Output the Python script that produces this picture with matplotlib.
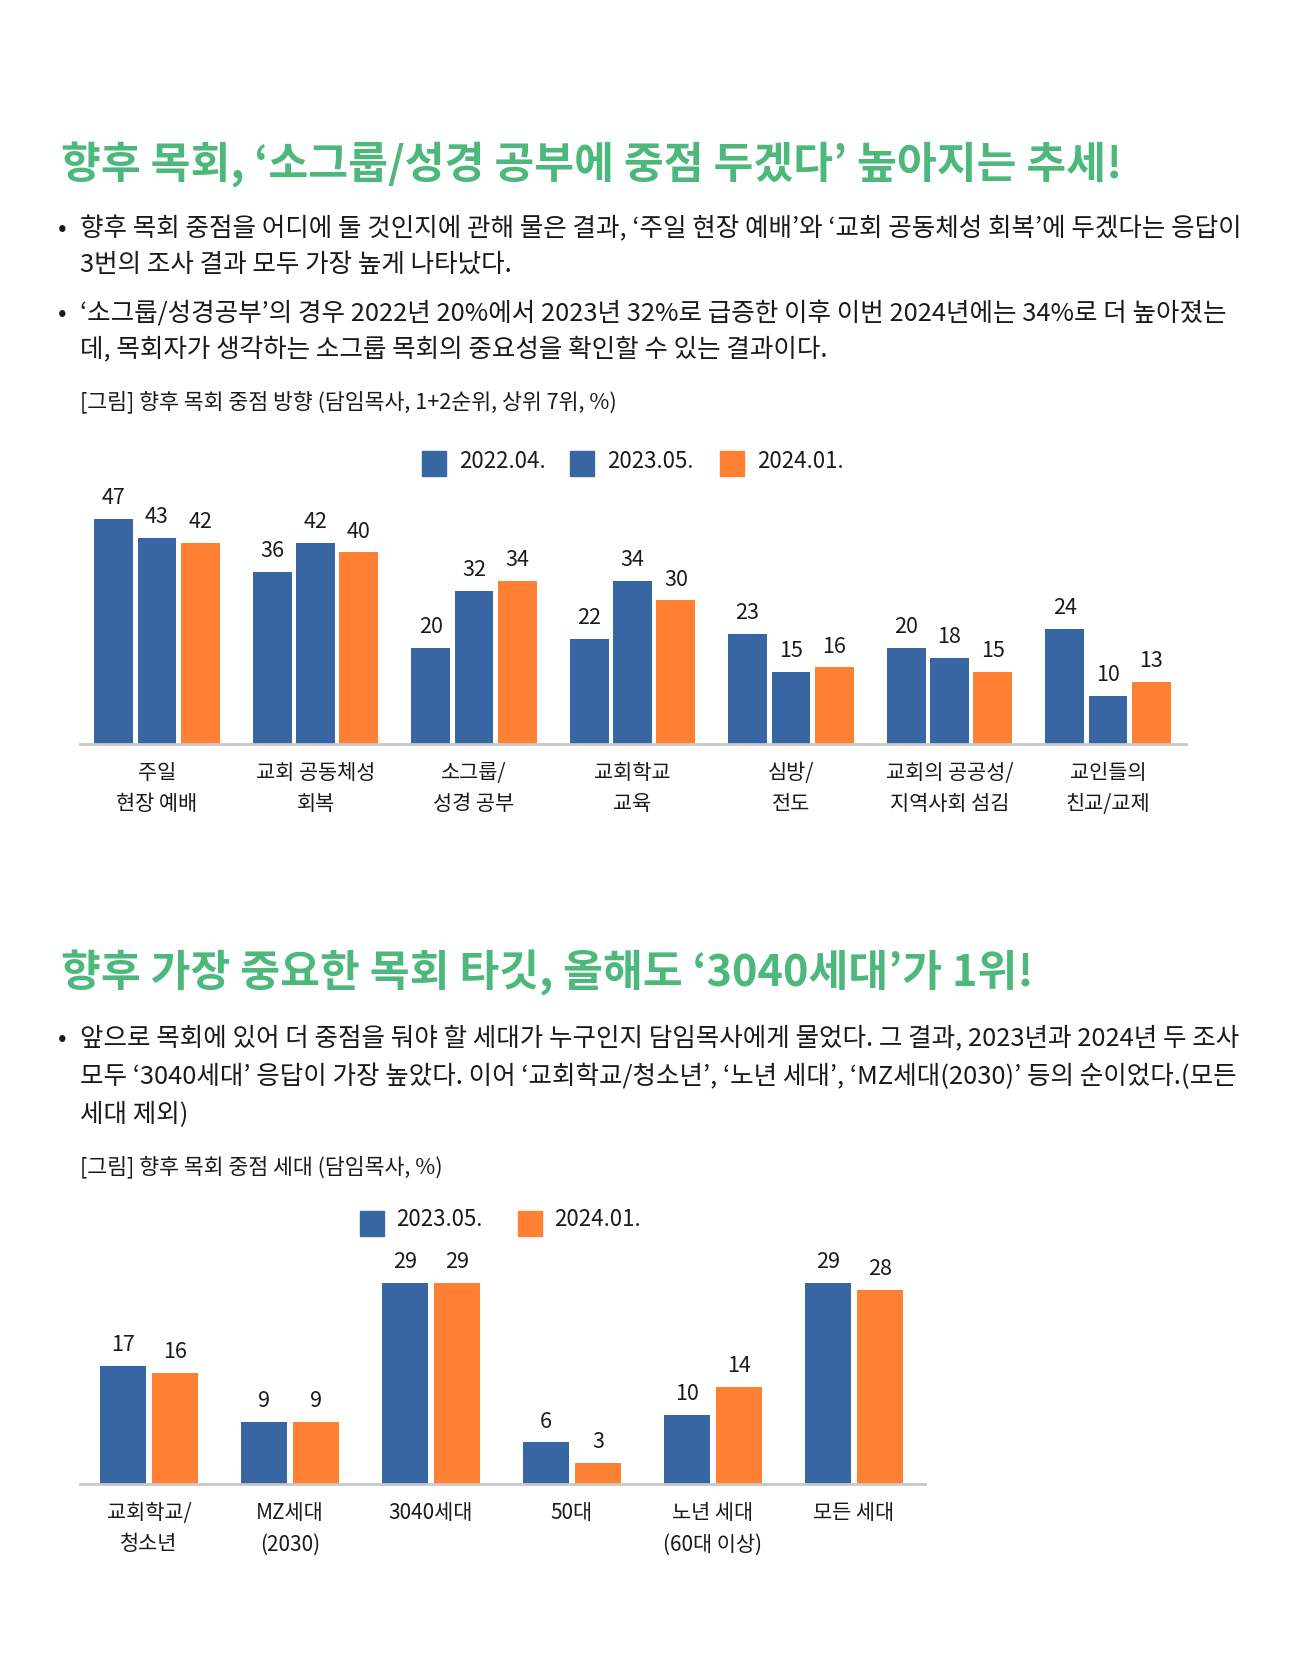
import matplotlib
matplotlib.use("Agg")
import matplotlib.pyplot as plt
import numpy as np

plt.rcParams['font.family'] = ['Noto Sans CJK KR', 'DejaVu Sans']

# chart 1 data
cats1 = ["주일\n현장 예배", "교회 공동체성\n회복", "소그룹/\n성경 공부", "교회학교\n교육",
         "심방/\n전도", "교회의 공공성/\n지역사회 섬김", "교인들의\n친교/교제"]
s2022 = [47, 36, 20, 22, 23, 20, 24]
s2023 = [43, 42, 32, 34, 15, 18, 10]
s2024 = [42, 40, 34, 30, 16, 15, 13]
legend1 = ["2022.04.", "2023.05.", "2024.01."]

# chart 2 data
cats2 = ["교회학교/\n청소년", "MZ세대\n(2030)", "3040세대", "50대", "노년 세대\n(60대 이상)", "모든 세대"]
g2023 = [17, 9, 29, 6, 10, 29]
g2024 = [16, 9, 29, 3, 14, 28]
legend2 = ["2023.05.", "2024.01."]

BLUE = "#3866A3"
ORANGE = "#FF8033"
GREEN = "#4DB87B"
TXT = "#1a1a1a"

W, H = 1301, 1668
fig = plt.figure(figsize=(W / 100, H / 100), dpi=100)


def px(x, y):
    return x / W, 1 - y / H


def text(x, y, s, **kw):
    fx, fy = px(x, y)
    fig.text(fx, fy, s, va="center", **kw)


def legend_box(x, y, col):
    # x, y = top-left corner in pixels
    fx, fy = px(x, y + 25)
    fig.patches.append(plt.Rectangle((fx, fy), 24 / W, 25 / H, color=col, transform=fig.transFigure))


# ---- section 1 text ----
text(61, 165, "향후 목회, ‘소그룹/성경 공부에 중점 두겠다’ 높아지는 추세!",
     fontsize=31.2, color=GREEN, fontweight="bold")
body = 18.4
text(58, 229, "•", fontsize=body, color=TXT)
text(80, 229, "향후 목회 중점을 어디에 둘 것인지에 관해 물은 결과, ‘주일 현장 예배’와 ‘교회 공동체성 회복’에 두겠다는 응답이",
     fontsize=body, color=TXT)
text(80, 265, "3번의 조사 결과 모두 가장 높게 나타났다.", fontsize=body, color=TXT)
text(58, 314, "•", fontsize=body, color=TXT)
text(80, 314, "‘소그룹/성경공부’의 경우 2022년 20%에서 2023년 32%로 급증한 이후 이번 2024년에는 34%로 더 높아졌는",
     fontsize=body, color=TXT)
text(80, 350, "데, 목회자가 생각하는 소그룹 목회의 중요성을 확인할 수 있는 결과이다.", fontsize=body, color=TXT)
text(80, 402, "[그림] 향후 목회 중점 방향 (담임목사, 1+2순위, 상위 7위, %)", fontsize=15.6, color=TXT)

# ---- chart 1 ----
left, right, base = 80, 1186, 744
c0, step = 157, 158.5
ymax1 = 50
top = base - ymax1 * 4.79
ax1 = fig.add_axes([left / W, 1 - base / H, (right - left) / W, (base - top) / H])
x1 = np.arange(len(cats1))
bw, off = 0.246, 0.274
ax1.set_xlim((left - c0) / step, (right - c0) / step)
ax1.set_ylim(0, ymax1)
for vals, dx, col in [(s2022, -off, BLUE), (s2023, 0, BLUE), (s2024, off, ORANGE)]:
    bars = ax1.bar(x1 + dx, vals, bw, color=col)
    for b, v in zip(bars, vals):
        ax1.annotate(str(v), (b.get_x() + b.get_width() / 2, v), xytext=(0, 7),
                     textcoords="offset points", ha="center", va="bottom", fontsize=15.5, color=TXT)
ax1.set_xticks(x1)
ax1.set_xticklabels(cats1, fontsize=15, color=TXT, linespacing=1.55)
ax1.tick_params(axis="x", length=0, pad=13)
ax1.set_yticks([])
for s in ["top", "right", "left"]:
    ax1.spines[s].set_visible(False)
ax1.spines["bottom"].set_color("#C8C8C8")
ax1.spines["bottom"].set_linewidth(2)

for xs, lab, col in zip([422, 570, 720], legend1, [BLUE, BLUE, ORANGE]):
    legend_box(xs, 451, col)
    text(xs + 37, 461, lab, fontsize=16, color=TXT)

# ---- section 2 text ----
text(61, 973, "향후 가장 중요한 목회 타깃, 올해도 ‘3040세대’가 1위!",
     fontsize=31.2, color=GREEN, fontweight="bold")
text(58, 1039, "•", fontsize=body, color=TXT)
text(80, 1039, "앞으로 목회에 있어 더 중점을 둬야 할 세대가 누구인지 담임목사에게 물었다. 그 결과, 2023년과 2024년 두 조사",
     fontsize=body, color=TXT)
text(80, 1077, "모두 ‘3040세대’ 응답이 가장 높았다. 이어 ‘교회학교/청소년’, ‘노년 세대’, ‘MZ세대(2030)’ 등의 순이었다.(모든",
     fontsize=body, color=TXT)
text(80, 1115, "세대 제외)", fontsize=body, color=TXT)
text(80, 1167, "[그림] 향후 목회 중점 세대 (담임목사, %)", fontsize=15.6, color=TXT)

# ---- chart 2 ----
left2, right2, base2 = 80, 925, 1484
c02, step2 = 149, 141
ymax2 = 33
top2 = base2 - ymax2 * 6.93
ax2 = fig.add_axes([left2 / W, 1 - base2 / H, (right2 - left2) / W, (base2 - top2) / H])
x2 = np.arange(len(cats2))
bw2, off2 = 0.33, 0.186
ax2.set_xlim((left2 - c02) / step2, (right2 - c02) / step2)
ax2.set_ylim(0, ymax2)
for vals, dx, col in [(g2023, -off2, BLUE), (g2024, off2, ORANGE)]:
    bars = ax2.bar(x2 + dx, vals, bw2, color=col)
    for b, v in zip(bars, vals):
        ax2.annotate(str(v), (b.get_x() + b.get_width() / 2, v), xytext=(0, 7),
                     textcoords="offset points", ha="center", va="bottom", fontsize=15.5, color=TXT)
ax2.set_xticks(x2)
ax2.set_xticklabels(cats2, fontsize=15, color=TXT, linespacing=1.55)
ax2.tick_params(axis="x", length=0, pad=13)
ax2.set_yticks([])
for s in ["top", "right", "left"]:
    ax2.spines[s].set_visible(False)
ax2.spines["bottom"].set_color("#C8C8C8")
ax2.spines["bottom"].set_linewidth(2)

for xs, lab, col in zip([360, 518], legend2, [BLUE, ORANGE]):
    legend_box(xs, 1211, col)
    text(xs + 36, 1219, lab, fontsize=16, color=TXT)

fig.savefig("out.png", dpi=100)
